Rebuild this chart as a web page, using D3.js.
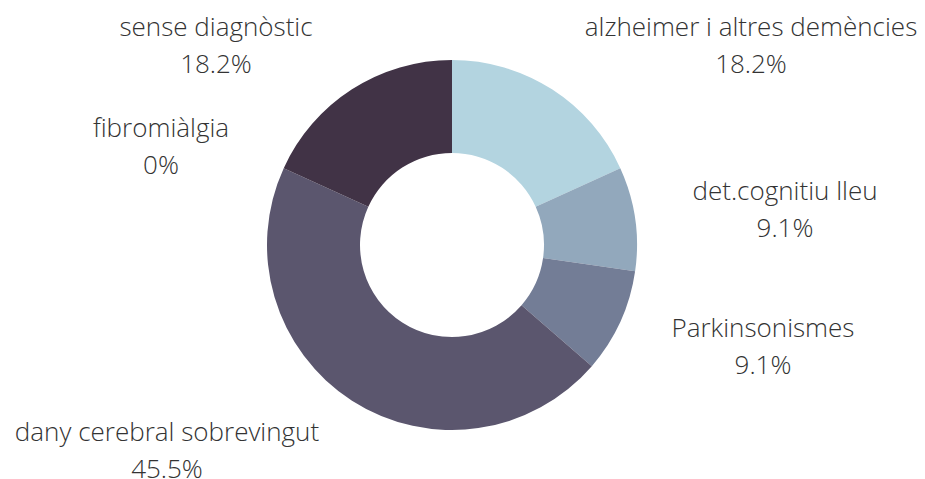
<!DOCTYPE html>
<html>
<head>
<meta charset="utf-8">
<script src="https://cdn.jsdelivr.net/npm/d3@7"></script>
<style>
  html, body { margin: 0; padding: 0; background: #fff; }
  svg text { font-family: "Open Sans", sans-serif; font-weight: 300; fill: #333; }
</style>
</head>
<body>
<svg id="chart" width="925" height="479"></svg>
<script>
const categories = ["alzheimer i altres demències", "det.cognitiu lleu", "Parkinsonismes", "dany cerebral sobrevingut", "fibromiàlgia", "sense diagnòstic"];
const values = [18.2, 9.1, 9.1, 45.5, 0, 18.2];
const percentLabels = ["18.2%", "9.1%", "9.1%", "45.5%", "0%", "18.2%"];

// layout (label anchor positions, relative to the donut centre)
const colors = ["#b3d4e0", "#92a8bc", "#737d96", "#5b566e", "#4b4159", "#413346"];
const labelOffsets = [[299, -209], [333, -45], [311, 92], [-285, 196], [-291, -108], [-236, -209]];

const cx = 452, cy = 245, outerR = 185, innerR = 92;
const svg = d3.select("#chart");
const g = svg.append("g").attr("transform", `translate(${cx},${cy})`);

const pie = d3.pie().sort(null).value(d => d.value);
const data = categories.map((c, i) => ({ name: c, value: values[i], pct: percentLabels[i], i }));
const arcs = pie(data);
const arc = d3.arc().innerRadius(innerR).outerRadius(outerR);

g.selectAll("path.slice").data(arcs).enter().append("path")
  .attr("class", "slice")
  .attr("d", arc)
  .attr("fill", d => colors[d.data.i]);

const labels = g.selectAll("text.lbl").data(arcs).enter().append("text")
  .attr("class", "lbl")
  .attr("text-anchor", "middle")
  .attr("font-size", 26)
  .attr("x", d => labelOffsets[d.data.i][0])
  .attr("y", d => labelOffsets[d.data.i][1]);
labels.append("tspan").attr("x", d => labelOffsets[d.data.i][0]).text(d => d.data.name);
labels.append("tspan").attr("x", d => labelOffsets[d.data.i][0]).attr("dy", 37).text(d => d.data.pct);
</script>
</body>
</html>
